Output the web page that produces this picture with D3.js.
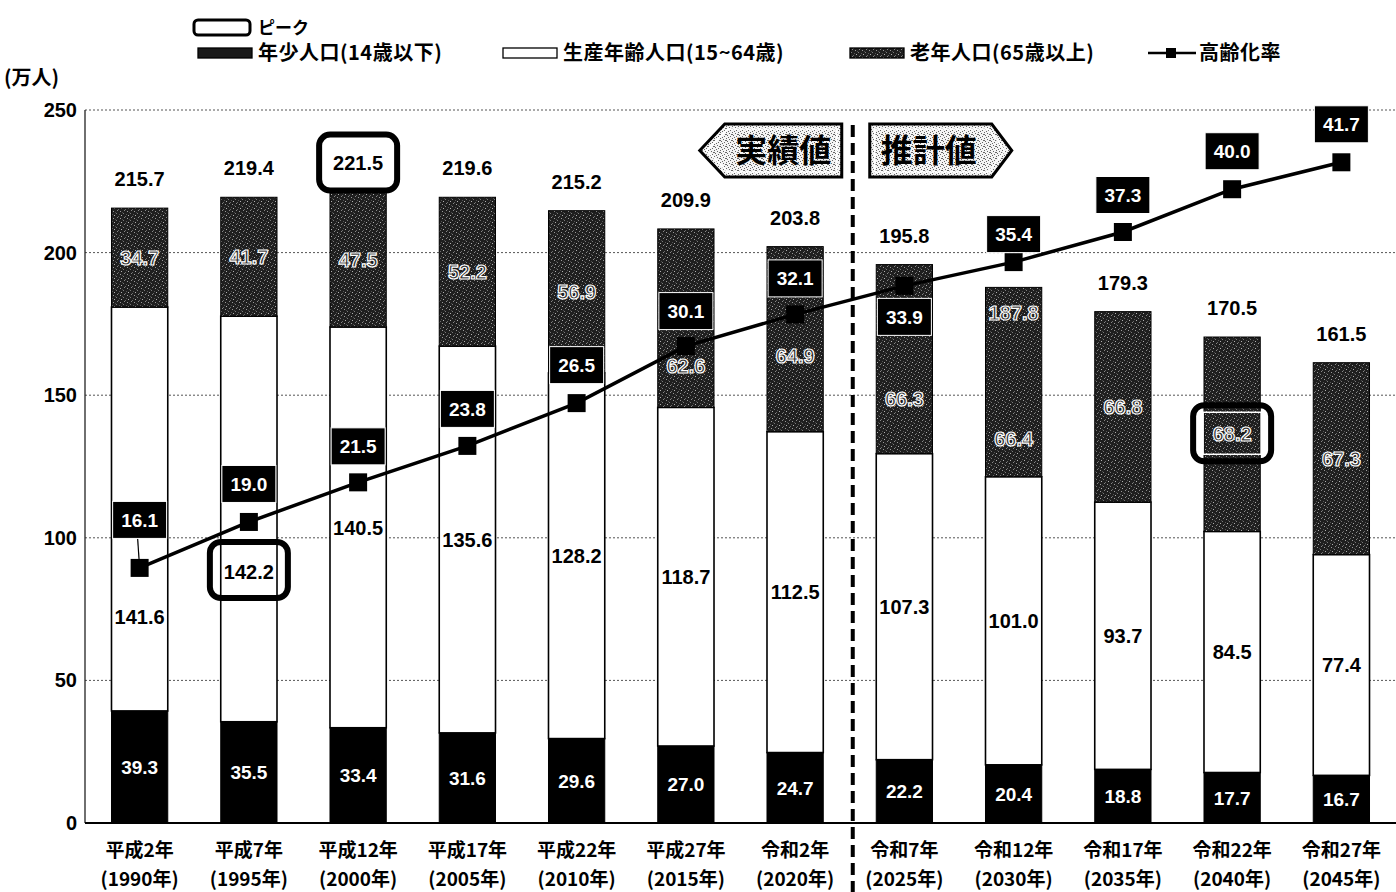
<!DOCTYPE html>
<html>
<head>
<meta charset="utf-8">
<script src="https://cdn.jsdelivr.net/npm/d3@7"></script>
<style>
  body { margin: 0; background: #fff; }
  svg { display: block; }
  text { font-family: "Liberation Sans", Arial, "Noto Sans CJK JP", sans-serif; font-weight: bold; }
  .jp { font-family: "Noto Sans CJK JP", sans-serif; font-weight: bold; }
</style>
</head>
<body>
<svg id="chart" width="1396" height="892"></svg>
<script>
// ---- data (万人 / %) ----
const eraLabels  = ["平成2年", "平成7年", "平成12年", "平成17年", "平成22年", "平成27年",
                    "令和2年", "令和7年", "令和12年", "令和17年", "令和22年", "令和27年"];
const yearLabels = ["(1990年)", "(1995年)", "(2000年)", "(2005年)", "(2010年)", "(2015年)",
                    "(2020年)", "(2025年)", "(2030年)", "(2035年)", "(2040年)", "(2045年)"];
const youngPop   = [39.3, 35.5, 33.4, 31.6, 29.6, 27.0, 24.7, 22.2, 20.4, 18.8, 17.7, 16.7];
const workingPop = [141.6, 142.2, 140.5, 135.6, 128.2, 118.7, 112.5, 107.3, 101.0, 93.7, 84.5, 77.4];
const elderlyPop = [34.7, 41.7, 47.5, 52.2, 56.9, 62.6, 64.9, 66.3, 66.4, 66.8, 68.2, 67.3];
const totalPop   = [215.7, 219.4, 221.5, 219.6, 215.2, 209.9, 203.8, 195.8, 187.8, 179.3, 170.5, 161.5];
const agingRate  = [16.1, 19.0, 21.5, 23.8, 26.5, 30.1, 32.1, 33.9, 35.4, 37.3, 40.0, 41.7];
const yTicks     = [0, 50, 100, 150, 200, 250];
const actualCount = 7;   // 実績値 up to 令和2年, 推計値 afterwards

const seriesKeys = ["young", "working", "elderly"];
const legendItems = [
  { key: "young",   label: "年少人口(14歳以下)" },
  { key: "working", label: "生産年齢人口(15~64歳)" },
  { key: "elderly", label: "老年人口(65歳以上)" },
  { key: "rate",    label: "高齢化率" }
];

// ---- layout ----
const W = 1396, H = 892;
const plot = { left: 85, right: 1396, top: 110, bottom: 823 };

// per-bar label nudges (px) so labels clear the rate line and its boxes
const rateLabelDy    = [-48, -38, -36, -37, -38, -35, -36, 31, -28, -37, -38, -38];
const elderlyLabelDy = [0, 0, 0, 0, 0, 48, 17, 40, 57, 0, 0, 0];
const workingLabelDy = [108, 53, 0, 0, 0, 0, 0, 0, 0, 0, 0, 0];

const svg = d3.select("#chart");
const defs = svg.append("defs");

// dark halftone texture for 老年人口
const speckle = defs.append("pattern").attr("id", "speckle")
  .attr("width", 7).attr("height", 7).attr("patternUnits", "userSpaceOnUse");
speckle.append("rect").attr("width", 7).attr("height", 7).attr("fill", "#1f1f1f");
[[1,1,"#9a9a9a"],[4,3,"#7a7a7a"],[2,5,"#b0b0b0"],[6,6,"#6a6a6a"],[5,0,"#888"],[0,4,"#555"],[3,2,"#4a4a4a"]]
  .forEach(([px, py, c]) => speckle.append("rect").attr("x", px).attr("y", py)
    .attr("width", 1).attr("height", 1).attr("fill", c));

// light halftone for the 実績値 / 推計値 tags
const lightSpeckle = defs.append("pattern").attr("id", "lightSpeckle")
  .attr("width", 6).attr("height", 6).attr("patternUnits", "userSpaceOnUse");
lightSpeckle.append("rect").attr("width", 6).attr("height", 6).attr("fill", "#f4f4f4");
[[0,0],[3,1],[1,3],[4,4],[5,2],[2,5],[0,2]]
  .forEach(([px, py]) => lightSpeckle.append("rect").attr("x", px).attr("y", py)
    .attr("width", 1).attr("height", 1).attr("fill", "#666"));

const fills = { young: "#000", working: "#fff", elderly: "url(#speckle)" };

// ---- scales ----
const x = d3.scaleBand().domain(eraLabels)
  .range([plot.left, plot.right]).paddingInner(0.485).paddingOuter(0.2425);
const y = d3.scaleLinear().domain([0, 250]).range([plot.bottom, plot.top]);
const yRate = d3.scaleLinear().domain([0, 45]).range([plot.bottom, plot.top]);
const bw = x.bandwidth();
const cx = c => x(c) + bw / 2;

// ---- grid ----
svg.append("g").selectAll("line").data(yTicks.filter(t => t > 0)).join("line")
  .attr("x1", plot.left).attr("x2", plot.right)
  .attr("y1", d => y(d)).attr("y2", d => y(d))
  .attr("stroke", "#555").attr("stroke-width", 1).attr("stroke-dasharray", "2,2");

// ---- stacked bars ----
const rows = eraLabels.map((c, i) => ({ cat: c, young: youngPop[i], working: workingPop[i], elderly: elderlyPop[i] }));
const stacked = d3.stack().keys(seriesKeys)(rows);

const barG = svg.append("g");
stacked.forEach(s => {
  barG.append("g").selectAll("rect").data(s).join("rect")
    .attr("x", d => x(d.data.cat))
    .attr("y", d => y(d[1]))
    .attr("width", bw)
    .attr("height", d => y(d[0]) - y(d[1]))
    .attr("fill", fills[s.key])
    .attr("stroke", "#000")
    .attr("stroke-width", s.key === "working" ? 1.6 : 1);
});

// ---- axes ----
const yAxis = svg.append("g").attr("transform", `translate(${plot.left},0)`)
  .call(d3.axisLeft(y).tickValues(yTicks).tickSize(0).tickPadding(8));
yAxis.select(".domain").remove();
yAxis.selectAll("text").attr("font-size", 20).attr("fill", "#000")
  .attr("font-family", "Liberation Sans, Arial, sans-serif").attr("font-weight", "bold");
svg.append("line").attr("x1", plot.left).attr("x2", plot.left)
  .attr("y1", plot.top).attr("y2", plot.bottom).attr("stroke", "#222").attr("stroke-width", 1.3);
svg.append("line").attr("x1", plot.left).attr("x2", plot.right)
  .attr("y1", plot.bottom).attr("y2", plot.bottom).attr("stroke", "#000").attr("stroke-width", 2);

const xAxis = svg.append("g").attr("transform", `translate(0,${plot.bottom})`)
  .call(d3.axisBottom(x).tickSize(0).tickPadding(0));
xAxis.select(".domain").remove();
xAxis.selectAll("text").each(function (d, i) {
  const t = d3.select(this).text(null).attr("class", "jp").attr("font-size", 19)
    .attr("fill", "#000").attr("y", 0);
  t.append("tspan").attr("x", 0).attr("dy", 34).text(d);
  t.append("tspan").attr("x", 0).attr("dy", 29).text(yearLabels[i]);
});

svg.append("text").attr("class", "jp").attr("x", 4).attr("y", 85)
  .attr("font-size", 20).text("(万人)");

// ---- segment labels ----
const labelG = svg.append("g");
const segMid = (s, i) => (y(stacked[s][i][0]) + y(stacked[s][i][1])) / 2;

labelG.selectAll(".young").data(youngPop).join("text")
  .attr("x", (d, i) => cx(eraLabels[i])).attr("y", (d, i) => segMid(0, i))
  .attr("dy", "0.36em").attr("text-anchor", "middle").attr("font-size", 19)
  .attr("fill", "#fff").text(d => d.toFixed(1));

labelG.selectAll(".working").data(workingPop).join("text")
  .attr("x", (d, i) => cx(eraLabels[i])).attr("y", (d, i) => segMid(1, i) + workingLabelDy[i])
  .attr("dy", "0.36em").attr("text-anchor", "middle").attr("font-size", 20)
  .attr("fill", "#000").text(d => d.toFixed(1));

labelG.selectAll(".elderly").data(elderlyPop).join("text")
  .attr("x", (d, i) => cx(eraLabels[i])).attr("y", (d, i) => segMid(2, i) + elderlyLabelDy[i])
  .attr("dy", "0.36em").attr("text-anchor", "middle").attr("font-size", 20)
  .attr("fill", "#2a2a2a").attr("stroke", "#fff").attr("stroke-width", 1.2)
  .text(d => d.toFixed(1));

// totals above each bar; dropped inside the bar where the rate box sits above it
const rateBoxH = 37;
totalPop.forEach((v, i) => {
  const top = y(d3.sum([youngPop[i], workingPop[i], elderlyPop[i]]));
  const above = top - 29;
  const boxY = yRate(agingRate[i]) + rateLabelDy[i];
  const clash = Math.abs(boxY - above) < rateBoxH / 2 + 10;
  const t = labelG.append("text").attr("x", cx(eraLabels[i]))
    .attr("y", clash ? top + 25 : above).attr("dy", "0.36em")
    .attr("text-anchor", "middle").attr("font-size", 20).text(v.toFixed(1));
  if (clash) t.attr("fill", "#2a2a2a").attr("stroke", "#fff").attr("stroke-width", 1.2);
  else t.attr("fill", "#000");
});

// ---- 高齢化率 line ----
const rateG = svg.append("g");
const ratePts = agingRate.map((v, i) => [cx(eraLabels[i]), yRate(v)]);
rateG.append("path").attr("d", d3.line()(ratePts))
  .attr("fill", "none").attr("stroke", "#000").attr("stroke-width", 3.5);
rateG.selectAll("rect.marker").data(ratePts).join("rect").attr("class", "marker")
  .attr("x", d => d[0] - 9).attr("y", d => d[1] - 9)
  .attr("width", 18).attr("height", 18).attr("fill", "#000");

// leader from the first rate box down to its marker
rateG.append("line")
  .attr("x1", ratePts[0][0] - 2).attr("x2", ratePts[0][0])
  .attr("y1", ratePts[0][1] + rateLabelDy[0] + rateBoxH / 2).attr("y2", ratePts[0][1])
  .attr("stroke", "#000").attr("stroke-width", 1.2);

agingRate.forEach((v, i) => {
  const [px, py] = ratePts[i];
  const by = py + rateLabelDy[i];
  rateG.append("rect").attr("x", px - 27).attr("y", by - rateBoxH / 2)
    .attr("width", 54).attr("height", rateBoxH).attr("fill", "#000")
    .attr("stroke", "#fff").attr("stroke-width", 1);
  rateG.append("text").attr("x", px).attr("y", by).attr("dy", "0.36em")
    .attr("text-anchor", "middle").attr("font-size", 19).attr("fill", "#fff")
    .text(v.toFixed(1));
});

// ---- peak markers ----
const peakG = svg.append("g");
function peakBox(px, py, inner) {
  if (inner) {
    peakG.append("rect").attr("x", px - 29).attr("y", py - 21).attr("width", 58).attr("height", 42)
      .attr("fill", "none").attr("stroke", "#fff").attr("stroke-width", 1.5);
  }
  peakG.append("rect").attr("x", px - 39).attr("y", py - 28).attr("width", 78).attr("height", 56)
    .attr("rx", 11).attr("fill", "none").attr("stroke", "#000").attr("stroke-width", 6);
}
const iTot = d3.maxIndex(totalPop);
peakBox(cx(eraLabels[iTot]), y(d3.sum([youngPop[iTot], workingPop[iTot], elderlyPop[iTot]])) - 29, false);
const iWork = d3.maxIndex(workingPop);
peakBox(cx(eraLabels[iWork]), segMid(1, iWork) + workingLabelDy[iWork] - 2, false);
const iOld = d3.maxIndex(elderlyPop);
peakBox(cx(eraLabels[iOld]), segMid(2, iOld) + elderlyLabelDy[iOld] - 1, true);

// ---- actual / projected divider and tags ----
const divX = plot.left + actualCount * x.step() + 3;
svg.append("line").attr("x1", divX).attr("x2", divX).attr("y1", 125).attr("y2", H)
  .attr("stroke", "#000").attr("stroke-width", 4).attr("stroke-dasharray", "12,6");

function tag(x0, x1, tipX, text, tipLeft) {
  const t = 124, b = 177, m = (t + b) / 2;
  const pts = tipLeft
    ? [[tipX, m], [x0, t], [x1, t], [x1, b], [x0, b]]
    : [[x0, t], [x1, t], [tipX, m], [x1, b], [x0, b]];
  svg.append("polygon").attr("points", pts.map(p => p.join(",")).join(" "))
    .attr("fill", "url(#lightSpeckle)").attr("stroke", "#000").attr("stroke-width", 3);
  const inset = tipLeft
    ? [[tipX + 7, m], [x0 + 3, t + 5], [x1 - 5, t + 5], [x1 - 5, b - 5], [x0 + 3, b - 5]]
    : [[x0 + 5, t + 5], [x1 - 3, t + 5], [tipX - 7, m], [x1 - 3, b - 5], [x0 + 5, b - 5]];
  svg.append("polygon").attr("points", inset.map(p => p.join(",")).join(" "))
    .attr("fill", "none").attr("stroke", "#fff").attr("stroke-width", 1.5);
  svg.append("text").attr("class", "jp").attr("x", (x0 + x1) / 2 + (tipLeft ? 0 : -2)).attr("y", m)
    .attr("dy", "0.36em").attr("text-anchor", "middle").attr("font-size", 32)
    .attr("fill", "#000").text(text);
}
tag(divX - 128, divX - 11, divX - 153, "実績値", true);
tag(divX + 17, divX + 139, divX + 159, "推計値", false);

// ---- legend ----
const lg = svg.append("g");
lg.append("rect").attr("x", 194).attr("y", 20).attr("width", 56).attr("height", 15)
  .attr("rx", 4).attr("fill", "#fff").attr("stroke", "#000").attr("stroke-width", 3);
lg.append("text").attr("class", "jp").attr("x", 258).attr("y", 28).attr("dy", "0.36em")
  .attr("font-size", 17).text("ピーク");

const legendX = [198, 503, 850, 1148];
legendItems.forEach((it, i) => {
  const lx = legendX[i], ly = 53;
  if (it.key === "rate") {
    lg.append("line").attr("x1", lx).attr("x2", lx + 48).attr("y1", ly).attr("y2", ly)
      .attr("stroke", "#000").attr("stroke-width", 2.5);
    lg.append("rect").attr("x", lx + 18).attr("y", ly - 5).attr("width", 10).attr("height", 10).attr("fill", "#000");
  } else {
    lg.append("rect").attr("x", lx).attr("y", ly - 5).attr("width", 54).attr("height", 10)
      .attr("fill", it.key === "young" ? "#1a1a1a" : fills[it.key])
      .attr("stroke", "#000").attr("stroke-width", 1.3);
  }
  lg.append("text").attr("class", "jp").attr("x", lx + (it.key === "rate" ? 51 : 60)).attr("y", ly)
    .attr("dy", "0.36em").attr("font-size", 20).attr("letter-spacing", 0.5).text(it.label);
});
</script>
</body>
</html>
